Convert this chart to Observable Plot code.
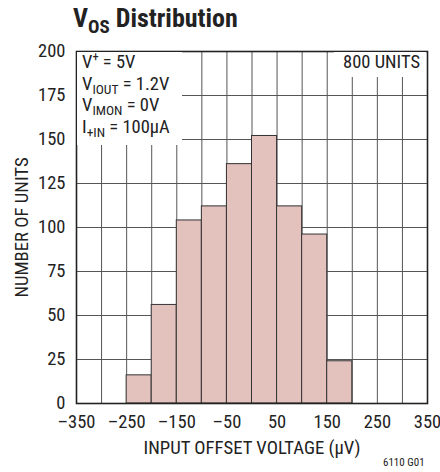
<!DOCTYPE html>
<html>
<head>
<meta charset="utf-8">
<script src="https://cdn.jsdelivr.net/npm/d3@7"></script>
<script src="https://cdn.jsdelivr.net/npm/@observablehq/plot@0.6"></script>
<style>
  html, body { margin: 0; padding: 0; background: #fff; }
  body { width: 440px; height: 472px; position: relative; overflow: hidden;
         font-family: "Roboto Condensed", "Liberation Sans Narrow", Roboto, sans-serif; font-stretch: condensed; color: #222; }
  #chart { position: absolute; left: 0; top: 0; }
  #chart svg, #chart svg text { font-family: "Roboto Condensed", "Liberation Sans Narrow", Roboto, sans-serif !important; font-stretch: condensed !important; }
  .title { position: absolute; left: 73px; top: 5px; font-size: 26px; line-height: 26px; font-weight: bold; color: #222; white-space: nowrap; }
  .title sub { font-size: 19px; vertical-align: -6px; line-height: 0; }
  .note { position: absolute; background: #fff; font-size: 18.5px; color: #222; white-space: nowrap; }
  .note div { height: 21.5px; line-height: 21.5px; }
  .note sub { font-size: 13.5px; vertical-align: -4px; line-height: 0; }
  .note sup { font-size: 12.5px; vertical-align: 7px; line-height: 0; }
  .code { position: absolute; left: 383px; top: 456px; font-size: 11px; color: #222; }
</style>
</head>
<body>
<div id="chart"></div>
<div class="title">V<sub>OS</sub> Distribution</div>
<div class="note" style="left:77px; top:52px; width:105px; height:93px; padding-left:5px; box-sizing:border-box;">
  <div>V<sup>+</sup> = 5V</div>
  <div>V<sub>IOUT</sub> = 1.2V</div>
  <div>V<sub>IMON</sub> = 0V</div>
  <div>I<sub>+IN</sub> = 100µA</div>
</div>
<div class="note" style="left:334px; top:52px; width:92px; height:25px; text-align:right; padding-right:6px; box-sizing:border-box;"><div>800 UNITS</div></div>
<div class="code">6110 G01</div>
<script>
const binEdges = [-250, -200, -150, -100, -50, 0, 50, 100, 150, 200];
const counts = [16, 56, 104, 112, 136, 152, 112, 96, 24];
const xTicks = [-350, -250, -150, -50, 50, 150, 250, 350];
const xGrid = [-300, -250, -200, -150, -100, -50, 0, 50, 100, 150, 200, 250, 300];
const yTicks = [0, 25, 50, 75, 100, 125, 150, 175, 200];
const xLabel = "INPUT OFFSET VOLTAGE (µV)";
const yLabel = "NUMBER OF UNITS";

const bins = counts.map((c, i) => ({x1: binEdges[i], x2: binEdges[i + 1], count: c}));

const fmt = d => d < 0 ? "\u2013" + Math.abs(d) : String(d);

const chart = Plot.plot({
  width: 440,
  height: 472,
  marginTop: 51,
  marginBottom: 69,
  marginLeft: 76,
  marginRight: 13,
  style: {fontSize: "18px", color: "#222", background: "transparent"},
  x: {domain: [-350, 350]},
  y: {domain: [0, 200]},
  marks: [
    Plot.gridX(xGrid, {stroke: "#555", strokeOpacity: 1, strokeWidth: 1}),
    Plot.gridY(yTicks, {stroke: "#555", strokeOpacity: 1, strokeWidth: 1}),
    Plot.rectY(bins, {x1: "x1", x2: "x2", y: "count", fill: "#e3c1bd", stroke: "#333", strokeWidth: 1}),
    Plot.frame({stroke: "#222", strokeWidth: 1.6}),
    Plot.axisX(xTicks, {tickSize: 0, tickPadding: 11, tickFormat: fmt, label: null, fontSize: 18.5}),
    Plot.axisY(yTicks, {tickSize: 0, tickPadding: 11, tickFormat: fmt, label: null, fontSize: 18.5}),
    Plot.axisX({ticks: [], label: xLabel, labelAnchor: "center", labelArrow: "none", labelOffset: 50, fontSize: 18.7}),
    Plot.axisY({ticks: [], label: yLabel, labelAnchor: "center", labelArrow: "none", labelOffset: 62, fontSize: 18.7})
  ]
});
document.getElementById("chart").appendChild(chart);
</script>
</body>
</html>
